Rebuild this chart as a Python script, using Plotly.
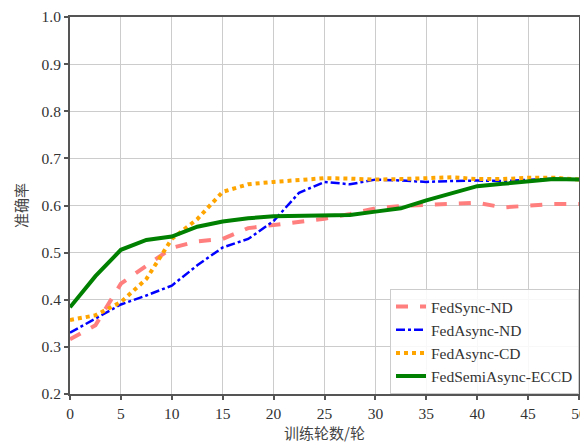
import plotly.graph_objects as go

rounds = [0, 2.5, 5, 7.5, 10, 12.5, 15, 17.5, 20, 22.5, 25, 27.5, 30, 32.5, 35, 37.5, 40, 42.5, 45, 47.5, 50]
fedsync_nd = [0.316, 0.346, 0.434, 0.473, 0.510, 0.524, 0.529, 0.552, 0.559, 0.566, 0.572, 0.582, 0.594, 0.599, 0.601, 0.603, 0.606, 0.596, 0.599, 0.603, 0.603]
fedasync_nd = [0.330, 0.360, 0.390, 0.409, 0.430, 0.473, 0.511, 0.529, 0.567, 0.627, 0.650, 0.645, 0.655, 0.653, 0.650, 0.652, 0.653, 0.652, 0.655, 0.657, 0.655]
fedasync_cd = [0.357, 0.367, 0.395, 0.444, 0.529, 0.571, 0.629, 0.645, 0.650, 0.653, 0.658, 0.657, 0.655, 0.656, 0.659, 0.660, 0.656, 0.656, 0.659, 0.659, 0.655]
fedsemiasync_eccd = [0.384, 0.450, 0.506, 0.527, 0.534, 0.555, 0.566, 0.573, 0.577, 0.578, 0.579, 0.580, 0.587, 0.594, 0.611, 0.627, 0.641, 0.646, 0.650, 0.656, 0.655]

series = [
    ("FedSync-ND", fedsync_nd, "#FF7F7F", "dash", 4),
    ("FedAsync-ND", fedasync_nd, "#0000FF", "dashdot", 2.5),
    ("FedAsync-CD", fedasync_cd, "#FFA500", "dot", 4),
    ("FedSemiAsync-ECCD", fedsemiasync_eccd, "#008000", "solid", 4),
]

fig = go.Figure()
for name, vals, color, dash, w in series:
    fig.add_trace(go.Scatter(x=rounds, y=vals, mode="lines", name=name,
                             line=dict(color=color, dash=dash, width=w)))

font_family = "Liberation Serif"
cjk_family = "Noto Sans CJK SC"
axis_common = dict(
    showgrid=True, gridcolor="#CCCCCC", gridwidth=1,
    showline=True, linecolor="#555555", linewidth=2, mirror=True,
    ticks="outside", ticklen=4, tickcolor="#555555", tickwidth=1.5,
    zeroline=False, automargin=False, ticklabeloverflow="allow",
    tickfont=dict(family=font_family, size=15.5, color="#333333"),
)

fig.update_layout(
    width=580, height=440,
    margin=dict(l=62, r=9, t=9, b=54),
    paper_bgcolor="white", plot_bgcolor="white",
    font=dict(family=font_family, size=16, color="#333333"),
    xaxis=dict(range=[0, 50], tick0=0, dtick=5,
               title=dict(text="训练轮数/轮", standoff=8,
                          font=dict(family=cjk_family, size=15, color="#444444")),
               **axis_common),
    yaxis=dict(range=[0.2, 1.0], tick0=0.2, dtick=0.1, tickformat=".1f",
               title=dict(text="准确率", standoff=10,
                          font=dict(family=cjk_family, size=15, color="#444444")),
               **axis_common),
    legend=dict(x=1, y=0, xanchor="right", yanchor="bottom",
                bgcolor="rgba(255,255,255,0.85)", bordercolor="#CCCCCC", borderwidth=1,
                font=dict(family=font_family, size=15.5, color="#333333"),
                tracegroupgap=0, itemwidth=30),
    showlegend=True,
)

fig.write_html("out.html")
